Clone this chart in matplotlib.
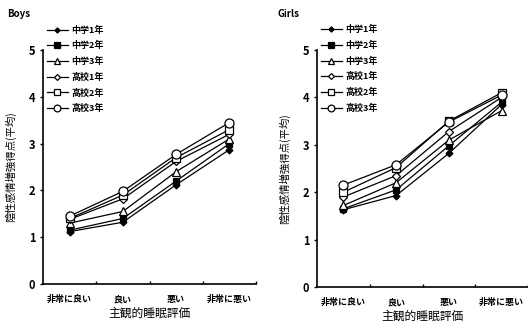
import matplotlib
matplotlib.use('Agg')
import matplotlib.pyplot as plt
import numpy as np

plt.rcParams['font.family'] = ['Noto Sans CJK JP', 'DejaVu Sans']
plt.rcParams['font.weight'] = 'bold'

categories = ['非常に良い', '良い', '悪い', '非常に悪い']
groups = ['中学1年', '中学2年', '中学3年', '高校1年', '高校2年', '高校3年']

boys = {
    '中学1年': [1.12, 1.32, 2.12, 2.87],
    '中学2年': [1.15, 1.40, 2.20, 3.00],
    '中学3年': [1.30, 1.55, 2.40, 3.10],
    '高校1年': [1.38, 1.82, 2.62, 3.20],
    '高校2年': [1.40, 1.90, 2.70, 3.30],
    '高校3年': [1.45, 1.98, 2.77, 3.45],
}
girls = {
    '中学1年': [1.63, 1.93, 2.82, 3.85],
    '中学2年': [1.65, 2.05, 2.98, 3.90],
    '中学3年': [1.72, 2.20, 3.10, 3.72],
    '高校1年': [1.90, 2.35, 3.28, 4.00],
    '高校2年': [2.00, 2.52, 3.50, 4.10],
    '高校3年': [2.15, 2.58, 3.48, 4.05],
}

styles = {
    '中学1年': dict(marker='D', ms=3.5, mfc='black'),
    '中学2年': dict(marker='s', ms=5, mfc='black'),
    '中学3年': dict(marker='^', ms=5.5, mfc='white'),
    '高校1年': dict(marker='D', ms=4, mfc='white'),
    '高校2年': dict(marker='s', ms=6, mfc='white'),
    '高校3年': dict(marker='o', ms=6.5, mfc='white'),
}

fig = plt.figure(figsize=(5.28, 3.28), dpi=100)
ax1 = fig.add_axes([43/528, 1-284/328, 213/528, 234/328])
ax2 = fig.add_axes([317/528, 1-287/328, 211/528, 237/328])

x = np.arange(len(categories)) + 0.5

for ax, data, title, tx in [(ax1, boys, 'Boys', 7/528), (ax2, girls, 'Girls', 277/528)]:
    for g in groups:
        ax.plot(x, data[g], color='black', lw=0.9, mec='black', mew=0.9,
                label=g, **styles[g])
    ax.set_xlim(0, 4)
    ax.set_ylim(0, 5)
    ax.set_yticks([0, 1, 2, 3, 4, 5])
    ax.set_xticks([1, 2, 3, 4])
    ax.set_xticklabels([])
    ax.set_xticks(x, minor=True)
    ax.set_xticklabels(categories, minor=True, fontsize=6.5)
    ax.tick_params(axis='x', which='major', direction='in', length=2, width=1)
    ax.tick_params(axis='x', which='minor', length=0, pad=8)
    ax.tick_params(axis='y', direction='out', length=2, width=1, labelsize=8)
    for s in ['top', 'right']:
        ax.spines[s].set_visible(False)
    for s in ['left', 'bottom']:
        ax.spines[s].set_linewidth(1.2)
    ax.set_xlabel('主観的睡眠評価', fontsize=8.5, labelpad=2)
    ax.set_ylabel('陰性感情増強得点(平均)', fontsize=7.5, labelpad=9)
    fig.text(tx, 1-14/328, title, fontsize=7, va='center', ha='left')
    ax.legend(loc='upper left', bbox_to_anchor=(0.0, 1.12), frameon=False,
              fontsize=6.5, handlelength=2.4, labelspacing=0.72,
              handletextpad=0.3, borderaxespad=0.0, markerscale=0.75)

fig.savefig('out.png', dpi=100)
